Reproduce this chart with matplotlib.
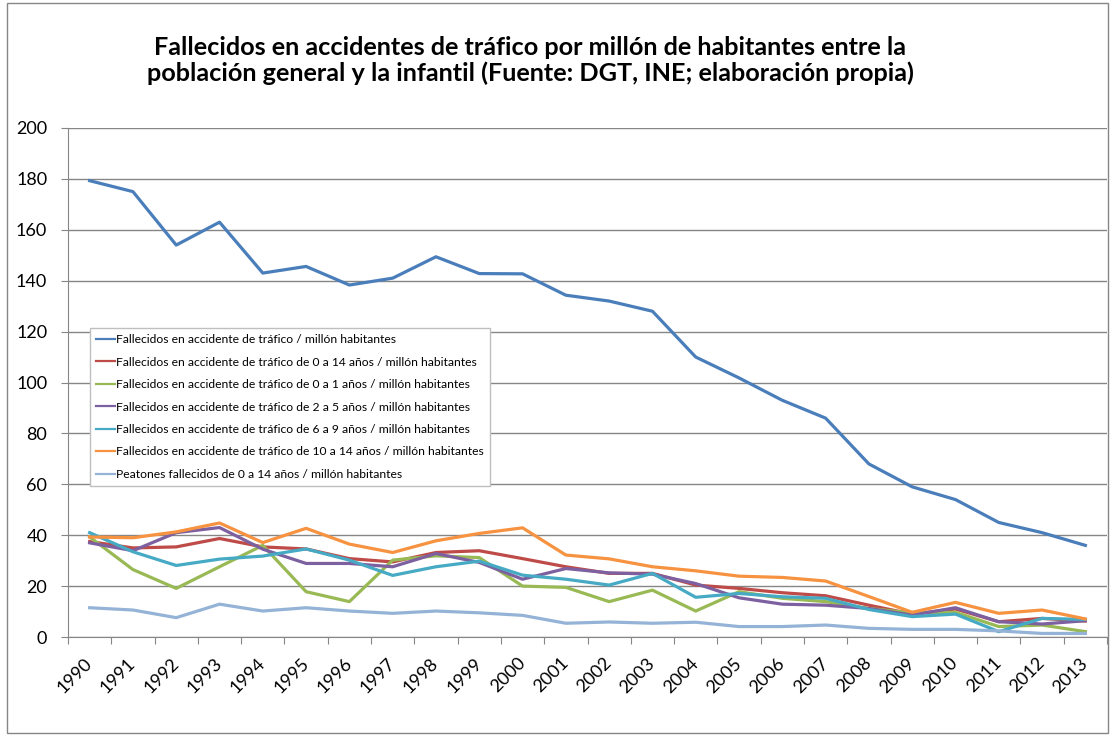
import matplotlib
matplotlib.use("Agg")
import matplotlib.pyplot as plt
from matplotlib.patches import Rectangle
import numpy as np

plt.rcParams['font.family'] = ['Lato', 'DejaVu Sans']

years = [str(y) for y in range(1990, 2014)]

total = [179.3, 175, 154, 163, 143, 145.6, 138.3, 141, 149.4, 142.8, 142.7, 134.3,
         132, 128, 110, 101.8, 93, 86, 68, 59, 54, 45, 41, 36]
age_0_14 = [37.5, 35, 35.4, 38.7, 35.4, 34.6, 30.8, 29.5, 33.2, 33.9, 30.8, 27.6,
            25, 25, 20.4, 19.1, 17.4, 16.2, 12.5, 9, 11, 6, 7.3, 6.3]
age_0_1 = [39.3, 26.5, 19.1, 27.6, 36, 17.8, 13.9, 30.2, 31.9, 31.2, 20, 19.5,
           13.9, 18.4, 10.2, 17.8, 15.2, 13.9, 11.2, 9.5, 9.7, 4.1, 4.7, 2.1]
age_2_5 = [37, 33.9, 41, 43, 34.5, 28.9, 28.9, 27.6, 32.8, 29.3, 22.7, 26.9,
           25.2, 24.7, 21, 15.4, 12.9, 12.5, 11.2, 8.6, 11.5, 6, 5.1, 6.4]
age_6_9 = [41, 33.5, 28.1, 30.6, 31.8, 34.6, 30.2, 24.2, 27.6, 29.8, 24.3, 22.7,
           20.4, 25, 15.6, 17.1, 15.8, 15.2, 10.8, 8, 9, 2.1, 7.3, 6.9]
age_10_14 = [39.3, 39, 41.3, 44.8, 37.1, 42.7, 36.5, 33.2, 37.8, 40.7, 42.9, 32.2,
             30.7, 27.6, 26, 23.9, 23.4, 22, 15.9, 9.7, 13.6, 9.3, 10.6, 7.1]
pedestrians = [11.5, 10.6, 7.6, 12.9, 10.2, 11.5, 10.2, 9.3, 10.2, 9.5, 8.5, 5.4,
               5.9, 5.4, 5.8, 4.1, 4.1, 4.7, 3.4, 3, 3, 2.4, 1.4, 1.4]

series = [
    ("Fallecidos en accidente de tráfico / millón habitantes", total, "#4A7EBB"),
    ("Fallecidos en accidente de tráfico de 0 a 14 años / millón habitantes", age_0_14, "#BE4B48"),
    ("Fallecidos en accidente de tráfico de 0 a 1 años / millón habitantes", age_0_1, "#98B954"),
    ("Fallecidos en accidente de tráfico de 2 a 5 años / millón habitantes", age_2_5, "#7D60A0"),
    ("Fallecidos en accidente de tráfico de 6 a 9 años / millón habitantes", age_6_9, "#46AAC5"),
    ("Fallecidos en accidente de tráfico de 10 a 14 años / millón habitantes", age_10_14, "#F69240"),
    ("Peatones fallecidos de 0 a 14 años / millón habitantes", pedestrians, "#95B3D7"),
]

W, H = 1110, 736
fig = plt.figure(figsize=(W / 100, H / 100), dpi=100)
ax = fig.add_axes([68 / W, 1 - 637 / H, (1107 - 68) / W, (637 - 128) / H])

x = np.arange(len(years))
for label, vals, color in series:
    ax.plot(x, vals, color=color, linewidth=2.3, label=label, solid_joinstyle='round')

ax.set_xlim(-0.5, len(years) - 0.5)
ax.set_ylim(0, 200)
ax.set_yticks(range(0, 201, 20))
ax.yaxis.grid(True, color='#868686', linewidth=1)
ax.set_axisbelow(True)

# category ticks between labels, labels at centres
ax.set_xticks(np.arange(-0.5, len(years), 1))
ax.set_xticklabels([])
ax.set_xticks(x, minor=True)
ax.set_xticklabels(years, minor=True, rotation=45, ha='right', va='center',
                   rotation_mode='anchor', fontsize=13)
ax.tick_params(axis='x', which='minor', length=0, pad=17)
ax.tick_params(axis='x', which='major', length=5, color='#868686')
ax.tick_params(axis='y', length=5, color='#868686', labelsize=13, pad=10)

for s in ['top', 'right']:
    ax.spines[s].set_visible(False)
for s in ['left', 'bottom']:
    ax.spines[s].set_color('#868686')

leg = ax.legend(loc='upper left', bbox_to_anchor=(0.021, 0.607), fontsize=8.7,
                frameon=True, fancybox=False, edgecolor='#BFBFBF', framealpha=1,
                handlelength=1.6, handletextpad=0.1, labelspacing=0.95,
                borderpad=0.5, borderaxespad=0)
for line in leg.get_lines():
    line.set_linewidth(1.6)

fig.text(530 / W, 1 - 55 / H,
         "Fallecidos en accidentes de tráfico por millón de habitantes entre la",
         ha='center', va='baseline', fontsize=18.2, fontweight='bold')
fig.text(530 / W, 1 - 81 / H,
         "población general y la infantil (Fuente: DGT, INE; elaboración propia)",
         ha='center', va='baseline', fontsize=18.2, fontweight='bold')

fig.patches.append(Rectangle((7 / W, 3 / H), 1101 / W, 730 / H, transform=fig.transFigure,
                             fill=False, edgecolor='#868686', linewidth=1))

fig.savefig("out.png", dpi=100)
